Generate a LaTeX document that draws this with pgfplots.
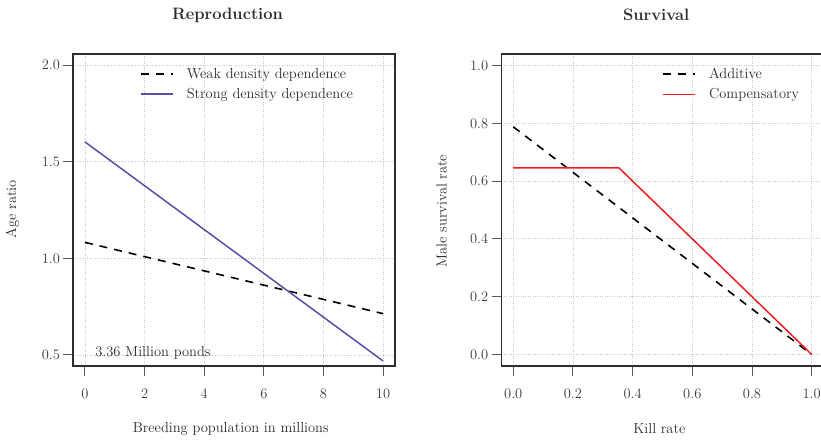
\documentclass[border=0pt]{standalone}
\usepackage{fontspec}
\usepackage{pgfplots}
\pgfplotsset{compat=1.18}
\definecolor{txt}{RGB}{45,45,45}
\definecolor{ticklab}{RGB}{60,60,60}
\definecolor{tickc}{RGB}{90,90,90}
\definecolor{gridc}{RGB}{200,200,200}
\definecolor{strongc}{RGB}{85,80,165}
\definecolor{redc}{RGB}{235,30,35}
\pgfplotsset{
  panel/.style={
    scale only axis, height=312pt, anchor=south west,
    axis line style={draw=txt, line width=1.1pt},
    tick align=outside, major tick length=9.5pt,
    xtick pos=left, ytick pos=left,
    tick style={draw=tickc, line width=1pt, solid},
    grid=major,
    major grid style={draw=gridc, dotted, line width=0.8pt},
    font=\fontsize{14.5}{17}\selectfont,
    /pgf/number format/assume math mode=true,
    ticklabel style={text=ticklab},
    xticklabel style={yshift=-10pt},
    label style={text=txt},
    title style={at={(axis description cs:0.48,1.106)}, anchor=center, text=txt, font=\fontsize{16.5}{19}\selectfont\bfseries},
    xlabel style={at={(axis description cs:0.49,-0.202)}, anchor=center},
    legend cell align=left,
    legend style={draw=none, fill=none, inner sep=0pt, row sep=6.5pt,
      font=\fontsize{14.5}{17}\selectfont, nodes={inner sep=1pt, text=txt},
      /tikz/every odd column/.append style={column sep=12pt}},
    legend image code/.code={\draw[#1] (0pt,0pt) -- (32pt,0pt);},
  }
}
\begin{document}
\begin{tikzpicture}
\useasboundingbox (0,0) rectangle (821pt,440pt);
\begin{axis}[panel, at={(73pt,74pt)}, width=322pt,
  xmin=-0.4, xmax=10.4, ymin=0.443, ymax=2.058,
  xtick={0,2,4,6,8,10}, ytick={0.5,1.0,1.5,2.0},
  yticklabel style={/pgf/number format/.cd, fixed, fixed zerofill, precision=1},
  title={Reproduction},
  xlabel={Breeding population in millions},
  ylabel={Age ratio},
  ylabel style={at={(axis description cs:-0.188,0.503)}, anchor=center},
  legend style={at={(axis description cs:0.208,0.958)}, anchor=north west},
]
\addplot[black, dashed, dash pattern=on 8pt off 7pt, line width=1.6pt] coordinates {(0,1.083) (10,0.714)};
\addlegendentry{Weak density dependence}
\addplot[strongc, line width=1.5pt] coordinates {(0,1.603) (10,0.469)};
\addlegendentry{Strong density dependence}
\node[anchor=west, inner sep=0pt, text=txt] at (axis cs:0.34,0.509) {3.36 Million ponds};
\end{axis}
\begin{axis}[panel, at={(501.3pt,74pt)}, width=325.3pt,
  xmin=-0.04, xmax=1.05, ymin=-0.04, ymax=1.04,
  xtick={0,0.2,0.4,0.6,0.8,1.0}, ytick={0,0.2,0.4,0.6,0.8,1.0},
  xticklabel style={/pgf/number format/.cd, fixed, fixed zerofill, precision=1},
  yticklabel style={/pgf/number format/.cd, fixed, fixed zerofill, precision=1},
  title={Survival},
  title style={at={(axis description cs:0.476,1.106)}},
  xlabel={Kill rate},
  xlabel style={at={(axis description cs:0.486,-0.202)}},
  ylabel={Male survival rate},
  ylabel style={at={(axis description cs:-0.183,0.497)}, anchor=center},
  legend style={at={(axis description cs:0.495,0.958)}, anchor=north west},
]
\addplot[black, dashed, dash pattern=on 8pt off 7pt, line width=1.6pt] coordinates {(0,0.788) (1,0)};
\addlegendentry{Additive}
\addplot[redc, line width=1.5pt] coordinates {(0,0.646) (0.354,0.646) (1,0)};
\addlegendentry{Compensatory}
\end{axis}
\end{tikzpicture}
\end{document}
